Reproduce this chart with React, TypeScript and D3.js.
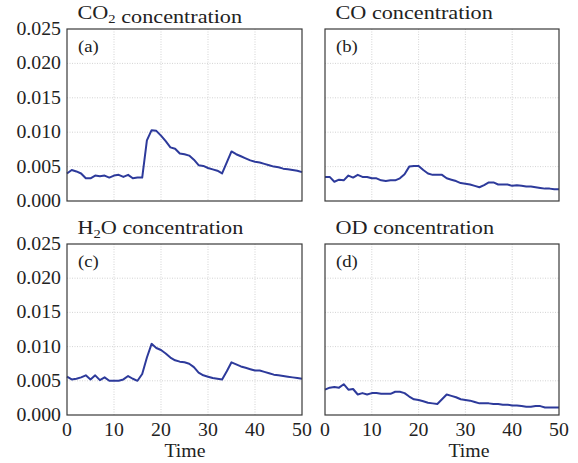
import React from 'react'
import * as d3 from 'd3'

const W = 578, H = 463

const time = d3.range(0, 51)

const co2 = [0.0040, 0.0045, 0.0043, 0.0040, 0.0033, 0.0033, 0.0037, 0.0036, 0.0037, 0.0034,
  0.0037, 0.0038, 0.0035, 0.0038, 0.0033, 0.0034, 0.0034, 0.0088, 0.0103, 0.0102,
  0.0095, 0.0087, 0.0078, 0.0076, 0.0069, 0.0068, 0.0066, 0.0060, 0.0052, 0.0051,
  0.0048, 0.0046, 0.0044, 0.0040, 0.0056, 0.0072, 0.0068, 0.0065, 0.0062, 0.0059,
  0.0057, 0.0056, 0.0054, 0.0052, 0.0050, 0.0049, 0.0047, 0.0046, 0.0045, 0.0044, 0.0042]

const co = [0.0035, 0.0035, 0.0028, 0.0031, 0.0030, 0.0037, 0.0034, 0.0038, 0.0035, 0.0035,
  0.0033, 0.0033, 0.0030, 0.0029, 0.0030, 0.0030, 0.0033, 0.0039, 0.0050, 0.0051,
  0.0051, 0.0045, 0.0040, 0.0038, 0.0038, 0.0038, 0.0033, 0.0031, 0.0029, 0.0026,
  0.0025, 0.0024, 0.0022, 0.0020, 0.0023, 0.0027, 0.0027, 0.0024, 0.0024, 0.0024,
  0.0022, 0.0023, 0.0022, 0.0021, 0.0021, 0.0020, 0.0019, 0.0018, 0.0018, 0.0017, 0.0017]

const h2o = [0.0056, 0.0052, 0.0053, 0.0055, 0.0058, 0.0052, 0.0058, 0.0051, 0.0055, 0.0050,
  0.0050, 0.0050, 0.0052, 0.0057, 0.0053, 0.0050, 0.0060, 0.0084, 0.0104, 0.0098,
  0.0095, 0.0090, 0.0084, 0.0080, 0.0078, 0.0077, 0.0075, 0.0070, 0.0062, 0.0058,
  0.0056, 0.0054, 0.0053, 0.0052, 0.0064, 0.0077, 0.0074, 0.0071, 0.0069, 0.0067,
  0.0065, 0.0065, 0.0063, 0.0061, 0.0059, 0.0058, 0.0057, 0.0056, 0.0055, 0.0054, 0.0053]

const od = [0.0037, 0.0040, 0.0041, 0.0040, 0.0045, 0.0037, 0.0038, 0.0030, 0.0032, 0.0030,
  0.0032, 0.0032, 0.0031, 0.0031, 0.0031, 0.0034, 0.0034, 0.0032, 0.0027, 0.0023,
  0.0022, 0.0020, 0.0018, 0.0017, 0.0016, 0.0023, 0.0030, 0.0028, 0.0026, 0.0023,
  0.0022, 0.0021, 0.0019, 0.0017, 0.0017, 0.0017, 0.0016, 0.0016, 0.0015, 0.0015,
  0.0014, 0.0014, 0.0013, 0.0012, 0.0012, 0.0013, 0.0013, 0.0011, 0.0011, 0.0011, 0.0011]

const xTicks = [0, 10, 20, 30, 40, 50]
const yTicks = [0, 0.005, 0.01, 0.015, 0.02, 0.025]

const panels = [
  { id: 'a', chem: 'CO', sub: '2', rest: '', data: co2, col: 0, row: 0 },
  { id: 'b', chem: 'CO', sub: '', rest: '', data: co, col: 1, row: 0 },
  { id: 'c', chem: 'H', sub: '2', rest: 'O', data: h2o, col: 0, row: 1 },
  { id: 'd', chem: 'OD', sub: '', rest: '', data: od, col: 1, row: 1 },
]

const colX = [[67, 302], [325, 559]]
const rowY = [[29, 201], [244, 415]]

const txt = { fontFamily: 'Liberation Serif, serif', fill: '#222' }
const lineColor = '#2d3a9b'

// the source's lettering is a bit wider than Times, so stretch it sideways
const Label = ({ x, y, size, anchor = 'start', sx = 1.1, children }) => (
  <g transform={`translate(${x},${y}) scale(${sx},1)`}>
    <text textAnchor={anchor} style={{ ...txt, fontSize: size }}>{children}</text>
  </g>
)

const Panel = ({ p }) => {
  const [x0, x1] = colX[p.col]
  const [y0, y1] = rowY[p.row]
  const x = d3.scaleLinear().domain([0, 50]).range([x0, x1])
  const y = d3.scaleLinear().domain([0, 0.025]).range([y1, y0])
  const line = d3.line<number>().x((d, i) => x(time[i])).y(d => y(d))

  return (
    <g>
      {xTicks.slice(1, -1).map(t => (
        <line key={'gx' + t} x1={x(t)} x2={x(t)} y1={y0} y2={y1}
          stroke="#c8c8c8" strokeWidth={0.8} strokeDasharray="1,1.5" />
      ))}
      {yTicks.slice(1, -1).map(t => (
        <line key={'gy' + t} x1={x0} x2={x1} y1={y(t)} y2={y(t)}
          stroke="#c8c8c8" strokeWidth={0.8} strokeDasharray="1,1.5" />
      ))}
      <path d={line(p.data) || ''} fill="none" stroke={lineColor} strokeWidth={2} strokeLinejoin="round" />
      <rect x={x0} y={y0} width={x1 - x0} height={y1 - y0} fill="none" stroke="#3a3a3a" strokeWidth={1.2} />
      <Label x={x0 + 11} y={y0 + 23} size={17}>({p.id})</Label>
      <Label x={x0 + 10.5} y={y0 - 10} size={19} sx={1.17}>
        {p.chem}
        {p.sub && <tspan style={{ fontSize: 12.5 }} dy={4}>{p.sub}</tspan>}
        {p.sub && <tspan dy={-4}>{p.rest}</tspan>}
        {' concentration'}
      </Label>
      {p.col === 0 && yTicks.map(t => (
        <Label key={'ly' + t} x={x0 - 6} y={y(t) + 6} size={18} anchor="end">{d3.format('.3f')(t)}</Label>
      ))}
      {p.row === 1 && xTicks.map(t => (
        <Label key={'lx' + t} x={x(t)} y={y1 + 21} size={18} anchor="middle">{t}</Label>
      ))}
    </g>
  )
}

export default function App() {
  return (
    <svg width={W} height={H} style={{ position: 'absolute', left: 0, top: 0, background: '#fff' }}>
      {panels.map(p => <Panel key={p.id} p={p} />)}
      <Label x={185} y={457} size={18} anchor="middle">Time</Label>
      <Label x={469} y={457} size={18} anchor="middle">Time</Label>
    </svg>
  )
}
